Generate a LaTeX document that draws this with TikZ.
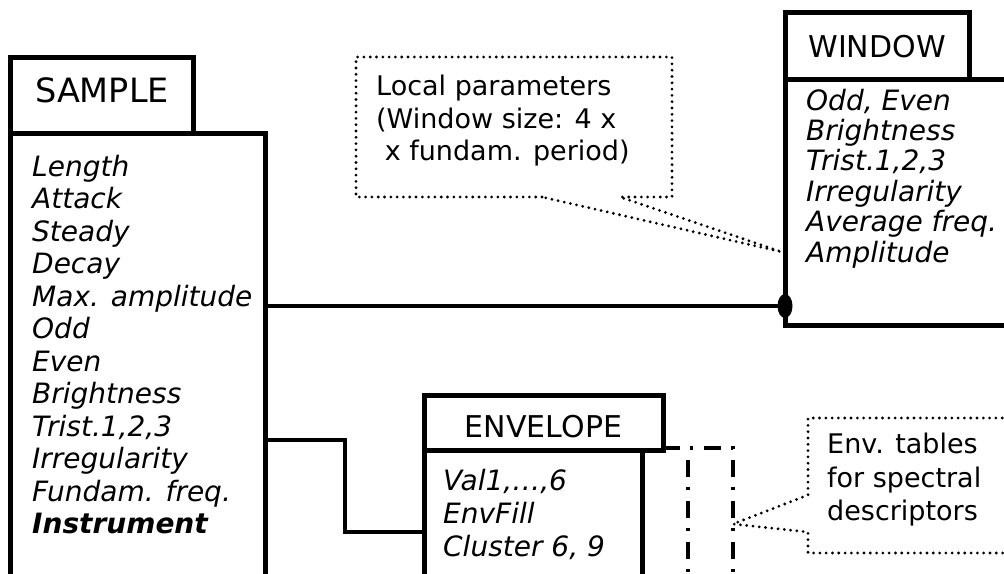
\documentclass[tikz,border=0pt]{standalone}
\usepackage{fontspec}
\setmainfont{DejaVu Sans}
\begin{document}
\tikzset{
  boxline/.style={draw, line width=5pt, inner sep=0pt, outer sep=0pt},
  titlebox/.style={boxline, anchor=base},
  bodybox/.style={boxline, anchor=north west},
  item/.style={font=\fontsize{28}{33}\selectfont\itshape, anchor=base west, inner sep=0pt},
  note/.style={font=\fontsize{27}{33}\selectfont, anchor=base west, inner sep=0pt},
  conn/.style={line width=3.3pt},
  dotline/.style={line width=3.1pt, dash pattern=on 0pt off 6.3pt, line cap=round},
  dashdotline/.style={line width=4pt, dash pattern=on 17pt off 10pt on 3pt off 11pt},
}
\begin{tikzpicture}[x=1pt,y=-1pt]
\useasboundingbox (0,0) rectangle (1004,573);
\clip (0,0) rectangle (1004,573);

% callout: local parameters
\coordinate (loctip) at (782,252);
\draw[dotline] (542,197) -- (356,197) -- (356,57) -- (672,57) -- (672,197) -- (620,197) -- (loctip) -- cycle;
\node[note] (loc1) at (376,95) {Local parameters};
\node[note] (loc2) at (376,128) {(Window size: 4 x};
\node[note] (loc3) at (376,160) {\hspace*{0.318em}x fundam. period)};

% callout: envelope tables
\coordinate (envtip) at (733,524);
\draw[dotline] (1040,418) -- (808,418) -- (808,495) -- (envtip) -- (808,532) -- (808,553) -- (1040,553);
\node[note] (env1) at (827,453) {Env. tables};
\node[note] (env2) at (827,487) {for spectral};
\node[note] (env3) at (827,520) {descriptors};

% SAMPLE
\node[bodybox, minimum width=254.3pt, minimum height=470pt] (sampleB) at (10.7,133) {};
\node[titlebox, font=\fontsize{33.5}{40}\selectfont, minimum width=182.3pt, text height=44.5pt, text depth=31pt] (sampleT) at (102,102) {SAMPLE};
\foreach \t [count=\i from 0] in {Length,Attack,Steady,Decay,Max. amplitude,Odd,Even,Brightness,{Trist.1,2,3},Irregularity,Fundam. freq.,{\bfseries Instrument}}
  \node[item] (s\i) at (32,{176+32.5*\i}) {\t};

% WINDOW
\node[bodybox, minimum width=260pt, minimum height=246pt] (windowB) at (785,79) {};
\node[titlebox, font=\fontsize{30}{36}\selectfont, minimum width=184pt, text height=45pt, text depth=22pt] (windowT) at (877,57) {WINDOW};
\foreach \t [count=\i from 0] in {{Odd, Even},Brightness,{Trist.1,2,3},Irregularity,Average freq.,Amplitude}
  \node[item] (w\i) at (806,{110+30.4*\i}) {\t};

% ENVELOPE
\node[bodybox, minimum width=218pt, minimum height=160pt] (envB) at (424,450) {};
\node[titlebox, font=\fontsize{30}{36}\selectfont, minimum width=239pt, text height=42pt, text depth=13pt] (envT) at (543.5,437) {ENVELOPE};
\foreach \t [count=\i from 0] in {{Val1,…,6},EnvFill,{Cluster 6, 9}}
  \node[item] (e\i) at (443,{490.5+33*\i}) {\t};

% dash-dot multiplicity frame
\draw[dashdotline] (envT.east |- 0,448) -- (733,448) -- (733,600);
\draw[dashdotline] (688,460) -- (688,600);

% connectors
\draw[conn] ([yshift=62pt]sampleB.east) -- ([yshift=-104pt]windowB.west);
\fill ([yshift=-104pt]windowB.west) ellipse [x radius=7.5pt, y radius=12pt];
\draw[conn] ([yshift=-72pt]sampleB.east) -- ++(80,0) |- ([yshift=-2pt]envB.west);
\end{tikzpicture}
\end{document}
